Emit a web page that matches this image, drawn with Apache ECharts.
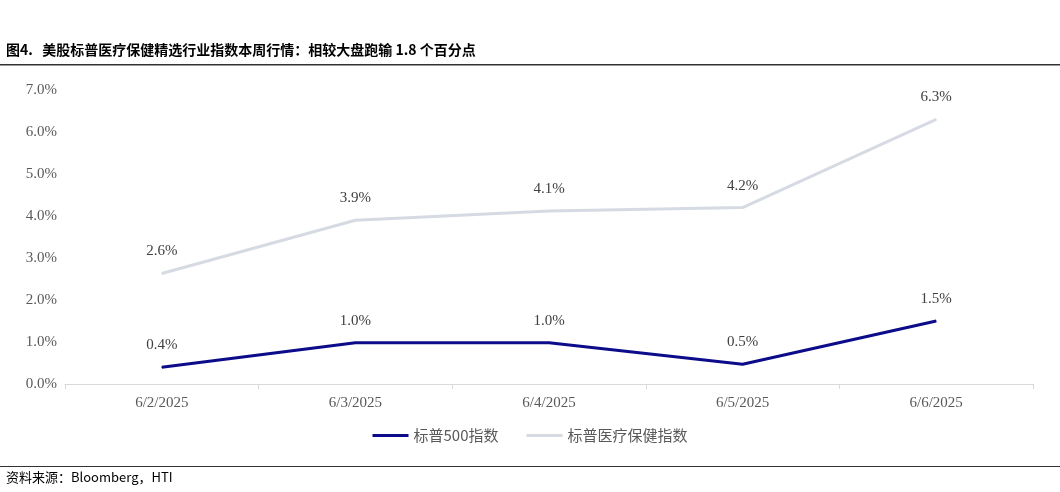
<!DOCTYPE html>
<html><head><meta charset="utf-8">
<script src="https://cdn.jsdelivr.net/npm/echarts@6/dist/echarts.min.js"></script>
<style>body{margin:0;background:#fff}#c{width:1060px;height:492px}</style></head>
<body><div id="c"></div>
<script>
const categories = ['6/2/2025','6/3/2025','6/4/2025','6/5/2025','6/6/2025'];
const sp500 = [0.40, 0.98, 0.98, 0.47, 1.50];
const health = [2.63, 3.90, 4.12, 4.20, 6.30];
const labelsSp = ['0.4%','1.0%','1.0%','0.5%','1.5%'];
const labelsHealth = ['2.6%','3.9%','4.1%','4.2%','6.3%'];
const chart = echarts.init(document.getElementById('c'));
const serif = 'Liberation Serif';
chart.setOption({
  animation:false,
  graphic:[
    {type:'text',left:6,top:43,style:{text:'图4.   美股标普医疗保健精选行业指数本周行情：相较大盘跑输 1.8 个百分点',font:'bold 14px "Noto Sans CJK SC"',fill:'#000'}},
    {type:'rect',shape:{x:0,y:64,width:1060,height:1.5},style:{fill:'#333'}},
    {type:'rect',shape:{x:0,y:466,width:1060,height:1},style:{fill:'#333'}},
    {type:'text',left:6,top:471,style:{text:'资料来源：Bloomberg，HTI',font:'13px "Noto Sans CJK SC"',fill:'#000'}}
  ],
  grid:{left:65,right:27,top:90,bottom:108},
  legend:{bottom:44,left:'center',itemWidth:36,itemGap:28,icon:'rect',itemHeight:3,
    textStyle:{fontFamily:'Noto Sans CJK SC',fontSize:15,color:'#595959'},
    data:['标普500指数','标普医疗保健指数']},
  xAxis:{type:'category',data:categories,boundaryGap:true,
    axisLine:{lineStyle:{color:'#d9d9d9'}},axisTick:{show:true,lineStyle:{color:'#d9d9d9'}},
    axisLabel:{fontFamily:serif,fontSize:15,color:'#595959',margin:12}},
  yAxis:{type:'value',min:0,max:7,interval:1,splitLine:{show:false},
    axisLabel:{fontFamily:serif,fontSize:15,color:'#595959',formatter:v=>v.toFixed(1)+'%'}},
  series:[
    {name:'标普500指数',type:'line',data:sp500,symbol:'circle',symbolSize:1,showSymbol:true,lineStyle:{color:'#0c0c8a',width:3},itemStyle:{color:'#0c0c8a'},
      label:{show:true,position:'top',distance:14,fontFamily:serif,fontSize:15,color:'#404040',formatter:p=>labelsSp[p.dataIndex]}},
    {name:'标普医疗保健指数',type:'line',data:health,symbol:'circle',symbolSize:1,showSymbol:true,lineStyle:{color:'#d6dae3',width:3},itemStyle:{color:'#d6dae3'},
      label:{show:true,position:'top',distance:14,fontFamily:serif,fontSize:15,color:'#404040',formatter:p=>labelsHealth[p.dataIndex]}}
  ]
});
</script></body></html>
